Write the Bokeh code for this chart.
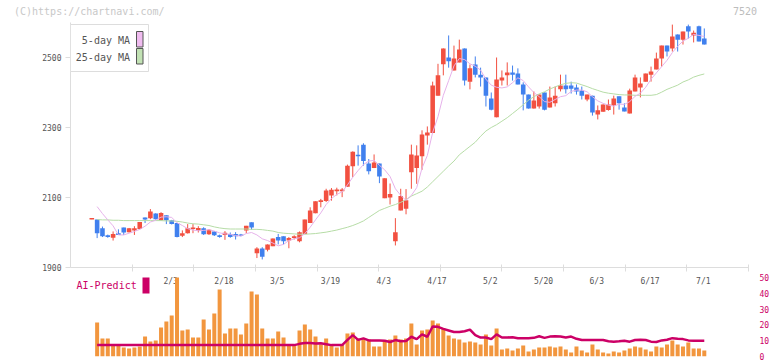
import numpy as np
from bokeh.plotting import figure
from bokeh.models import (Range1d, LinearAxis, FixedTicker, ColumnDataSource,
                          Label, BoxAnnotation, Div)
from bokeh.layouts import column
from bokeh.embed import file_html
from bokeh.resources import INLINE
from bokeh.core.properties import value

# ---------------- data ----------------
opens = [2039, 2037, 2012, 1992, 1985, 1998, 2014, 2001, 2006, 2010,
         2043, 2041, 2054, 2035, 2049, 2035, 2027, 1991, 1998, 2010,
         2006, 2012, 1995, 2003, 1992, 1993, 1996, 1996, 1994, 2006,
         2029, 1941, 1954, 1951, 1961, 1987, 1989, 1977, 1984, 1975,
         1996, 2027, 2055, 2087, 2090, 2106, 2118, 2118, 2131, 2189,
         2221, 2251, 2197, 2184, 2197, 2098, 2100, 1975, 2063, 2068,
         2172, 2184, 2218, 2277, 2284, 2391, 2481, 2500, 2463, 2486,
         2526, 2431, 2480, 2451, 2443, 2383, 2329, 2434, 2449, 2457,
         2454, 2423, 2394, 2354, 2360, 2400, 2357, 2369, 2409, 2420,
         2420, 2414, 2406, 2380, 2391, 2337, 2345, 2350, 2363, 2389,
         2357, 2340, 2403, 2414, 2431, 2451, 2466, 2497, 2534, 2526,
         2566, 2551, 2589, 2563, 2589, 2554]
highs = [2041, 2037, 2017, 1994, 2003, 2009, 2014, 2013, 2018, 2030,
         2043, 2067, 2055, 2058, 2049, 2036, 2027, 2006, 2024, 2024,
         2018, 2015, 2010, 2004, 1994, 2004, 2000, 2001, 1996, 2019,
         2029, 1958, 1958, 1966, 1983, 1996, 1989, 1987, 1992, 2003,
         2037, 2072, 2089, 2096, 2125, 2127, 2128, 2127, 2194, 2232,
         2249, 2255, 2210, 2223, 2197, 2155, 2140, 2041, 2125, 2124,
         2251, 2249, 2292, 2303, 2431, 2482, 2526, 2563, 2534, 2551,
         2526, 2480, 2503, 2471, 2443, 2400, 2500, 2463, 2486, 2477,
         2469, 2429, 2394, 2403, 2394, 2400, 2417, 2417, 2451, 2451,
         2431, 2423, 2417, 2394, 2391, 2363, 2366, 2380, 2391, 2389,
         2369, 2411, 2451, 2443, 2454, 2474, 2514, 2534, 2534, 2594,
         2566, 2574, 2594, 2577, 2591, 2583]
lows = [2038, 1984, 1987, 1985, 1977, 1993, 1993, 2000, 1993, 2009,
        2027, 2038, 2037, 2034, 2024, 2023, 1986, 1987, 1997, 1998,
        2000, 1993, 1993, 1990, 1985, 1979, 1985, 1980, 1989, 1998,
        2008, 1927, 1923, 1946, 1961, 1966, 1966, 1955, 1980, 1972,
        1996, 2027, 2055, 2072, 2087, 2091, 2106, 2101, 2131, 2158,
        2191, 2191, 2166, 2184, 2141, 2098, 2080, 1963, 2063, 2052,
        2125, 2139, 2179, 2251, 2284, 2391, 2449, 2471, 2463, 2486,
        2420, 2409, 2443, 2417, 2360, 2349, 2329, 2420, 2420, 2434,
        2423, 2349, 2354, 2354, 2354, 2349, 2357, 2360, 2403, 2397,
        2397, 2394, 2380, 2375, 2334, 2323, 2345, 2348, 2337, 2351,
        2346, 2340, 2403, 2386, 2431, 2431, 2466, 2474, 2503, 2517,
        2517, 2537, 2554, 2543, 2546, 2537]
closes = [2040, 1998, 1989, 1987, 1996, 1993, 2000, 2012, 2012, 2030,
          2037, 2060, 2038, 2056, 2035, 2024, 1987, 1998, 2012, 2014,
          2013, 1995, 2008, 1992, 1987, 1999, 1987, 1989, 1990, 2019,
          2014, 1954, 1931, 1966, 1983, 1977, 1975, 1984, 1989, 2001,
          2037, 2063, 2089, 2092, 2120, 2122, 2123, 2123, 2191, 2231,
          2219, 2204, 2175, 2200, 2160, 2155, 2110, 2001, 2104, 2092,
          2223, 2220, 2280, 2286, 2420, 2449, 2526, 2489, 2497, 2523,
          2434, 2469, 2451, 2443, 2391, 2351, 2437, 2443, 2457, 2451,
          2423, 2394, 2354, 2377, 2394, 2351, 2386, 2391, 2420, 2409,
          2411, 2403, 2391, 2394, 2343, 2349, 2366, 2366, 2383, 2369,
          2346, 2406, 2443, 2426, 2454, 2460, 2497, 2534, 2517, 2560,
          2551, 2574, 2574, 2571, 2546, 2537]
ma5 = [None, 2074, 2054, 2036, 2019, 1993, 1993, 1998, 2003, 2009,
       2018, 2030, 2035, 2044, 2045, 2043, 2028, 2020, 2011, 2007,
       2005, 2006, 2008, 2004, 1999, 1996, 1995, 1991, 1990, 1997,
       2000, 1993, 1982, 1977, 1970, 1962, 1966, 1977, 1982, 1985,
       1997, 2015, 2036, 2056, 2080, 2097, 2109, 2116, 2136, 2158,
       2177, 2194, 2204, 2206, 2192, 2179, 2160, 2125, 2106, 2092,
       2106, 2128, 2184, 2220, 2286, 2331, 2392, 2434, 2476, 2497,
       2494, 2482, 2475, 2464, 2438, 2421, 2415, 2413, 2416, 2428,
       2442, 2434, 2416, 2400, 2388, 2374, 2372, 2380, 2388, 2391,
       2403, 2407, 2407, 2402, 2388, 2376, 2369, 2364, 2361, 2367,
       2366, 2374, 2389, 2398, 2415, 2438, 2456, 2474, 2492, 2514,
       2532, 2547, 2555, 2566, 2563, 2560]
ma25 = [None, 2037, 2036, 2036, 2035, 2035, 2034, 2034, 2034, 2034,
        2034, 2034, 2034, 2034, 2033, 2033, 2032, 2030, 2027, 2025,
        2024, 2022, 2020, 2016, 2013, 2011, 2010, 2010, 2010, 2010,
        2009, 2009, 2008, 2006, 2004, 2000, 1998, 1997, 1996, 1995,
        1995, 1996, 1997, 1999, 2001, 2004, 2007, 2011, 2015, 2020,
        2026, 2033, 2043, 2053, 2063, 2069, 2075, 2080, 2086, 2094,
        2104, 2111, 2118, 2130, 2145, 2160, 2175, 2190, 2204, 2222,
        2234, 2246, 2258, 2275, 2290, 2300, 2308, 2318, 2328, 2340,
        2352, 2365, 2378, 2388, 2396, 2402, 2410, 2416, 2422, 2426,
        2428, 2427, 2422, 2417, 2411, 2406, 2401, 2398, 2396, 2394,
        2393, 2393, 2392, 2392, 2392, 2392, 2394, 2401, 2409, 2415,
        2421, 2430, 2436, 2444, 2449, 2453]
volume = [0, 34, 18, 18, 12, 12, 9, 8, 9, 10,
          20, 15, 16, 29, 35, 41, 79, 26, 27, 19,
          19, 37, 27, 43, 67, 23, 28, 28, 22, 33,
          65, 62, 28, 18, 18, 25, 19, 11, 11, 26,
          32, 27, 20, 12, 18, 11, 9, 12, 23, 24,
          18, 18, 17, 10, 10, 16, 17, 21, 17, 18,
          33, 12, 26, 27, 36, 33, 28, 21, 18, 17,
          14, 15, 14, 12, 22, 11, 28, 7, 8, 6,
          8, 11, 5, 7, 9, 9, 10, 9, 10, 7,
          4, 10, 6, 4, 12, 7, 4, 3, 5, 4,
          6, 8, 10, 9, 7, 5, 10, 9, 12, 16,
          12, 10, 14, 8, 8, 6]
ai_predict = [None, 7.2, 7.2, 7.2, 7.2, 7.2, 7.2, 7.2, 7.2, 7.2,
              7.2, 7.2, 7.2, 7.2, 7.2, 7.2, 7.2, 7.2, 7.2, 7.2,
              7.2, 7.2, 7.2, 7.2, 7.2, 7.2, 7.2, 7.2, 7.2, 7.2,
              7.2, 7.2, 7.2, 7.2, 7.2, 7.2, 7.2, 7.2, 7.2, 8.0,
              8.5, 8.5, 8.2, 8.4, 7.8, 7.2, 7.2, 7.2, 10.5, 13.5,
              10.5, 11.5, 10.2, 10.2, 10.2, 10.0, 9.2, 10.4, 9.6, 9.8,
              12.5, 11.0, 14.0, 12.5, 19.0, 18.8, 17.5, 16.5, 15.5, 15.5,
              16.0, 17.0, 13.5, 12.0, 12.0, 11.0, 14.0, 12.0, 12.0, 12.2,
              11.6, 11.6, 11.6, 11.8, 12.8, 11.8, 12.6, 12.8, 12.6, 12.0,
              12.6, 11.2, 10.4, 10.4, 10.4, 10.4, 10.4, 9.6, 9.4, 9.6,
              10.0, 9.4, 10.4, 10.6, 10.4, 9.4, 9.2, 10.2, 10.6, 11.6,
              11.2, 11.0, 10.2, 10.0, 10.0, 10.0]
date_labels = ["2/3", "2/18", "3/5", "3/19", "4/3", "4/17", "5/2",
               "5/20", "6/3", "6/17", "7/1"]
date_label_idx = [15, 25, 35, 45, 55, 65, 75, 85, 95, 105, 115]
price_ticks = [1900, 2100, 2300, 2500]
ai_ticks = [0, 10, 20, 30, 40, 50]

# ---------------- styling ----------------
FONT = "DejaVu Sans Mono"
UP = "#f25040"
DOWN = "#4080ee"
MA5C = "#e6b2ea"
MA25C = "#b6dca6"
VOLC = "#f2963e"
AIC = "#cc0066"
AXC = "#dddddd"
W = 772

X0, X1 = -4.0, 123.3

idx = np.arange(len(opens))
o = np.array(opens, float)
c = np.array(closes, float)
colors = np.where(c >= o, UP, DOWN)
top = np.maximum(o, c)
bot = np.minimum(o, c)
small = (top - bot) < 4
mid = (top + bot) / 2
top = np.where(small, mid + 2, top)
bot = np.where(small, mid - 2, bot)

src = ColumnDataSource(dict(x=idx, o=o, h=np.array(highs, float), l=np.array(lows, float),
                            c=c, top=top, bot=bot, color=colors,
                            ma5=np.array(ma5, dtype=float), ma25=np.array(ma25, dtype=float),
                            vol=np.array(volume, float), ai=np.array(ai_predict, dtype=float)))

# ---------------- header strip (copyright + code) ----------------
hdr = Div(width=W, height=22, margin=0, text=(
    '<div style="position:relative;width:772px;height:22px;'
    'font-family:\'DejaVu Sans Mono\',monospace;font-size:10px;line-height:12px;">'
    '<span style="position:absolute;left:14px;top:6px;color:#c8c8c8;white-space:nowrap;">'
    '(C)https://chartnavi.com/</span>'
    '<span style="position:absolute;left:733px;top:6px;color:#bdbdbd;white-space:nowrap;">'
    '7520</span></div>'))

# ---------------- main price chart ----------------
p = figure(width=W, height=251, x_range=Range1d(X0, X1), y_range=Range1d(1900, 2600),
           output_backend="svg", toolbar_location=None,
           min_border_left=70, min_border_right=20, min_border_top=0, min_border_bottom=6,
           outline_line_color=None, background_fill_color="white", border_fill_color="white")
p.grid.visible = False

p.yaxis.ticker = FixedTicker(ticks=price_ticks)
p.yaxis.major_label_text_font = FONT
p.yaxis.major_label_text_font_size = "8px"
p.yaxis.major_label_text_color = "#555555"
p.yaxis.axis_line_color = AXC
p.yaxis.major_tick_line_color = AXC
p.yaxis.major_tick_out = 5
p.yaxis.major_tick_in = 0
p.yaxis.minor_tick_line_color = None
p.yaxis.major_label_standoff = 4

p.xaxis.ticker = FixedTicker(ticks=list(np.linspace(X0, X1, 12)[1:]))
p.xaxis.major_label_text_color = None
p.xaxis.major_label_standoff = 0
p.xaxis.axis_line_color = AXC
p.xaxis.major_tick_line_color = AXC
p.xaxis.major_tick_out = 4
p.xaxis.major_tick_in = 3
p.xaxis.minor_tick_line_color = None

p.segment(x0="x", y0="l", x1="x", y1="h", color="color", line_width=1, source=src)
p.vbar(x="x", width=0.86, top="top", bottom="bot", fill_color="color", line_color=None, source=src)
p.line(x="x", y="ma25", color=MA25C, line_width=1, source=src)
p.line(x="x", y="ma5", color=MA5C, line_width=1, source=src)

# legend box (frame-relative screen units)
p.add_layout(BoxAnnotation(left=0, right=78, top=243, bottom=196,
                           left_units="screen", right_units="screen", top_units="screen", bottom_units="screen",
                           fill_color="white", fill_alpha=1, line_color=AXC, line_width=1, line_alpha=1))
p.add_layout(BoxAnnotation(left=66, right=72.5, top=236, bottom=220.5,
                           left_units="screen", right_units="screen", top_units="screen", bottom_units="screen",
                           fill_color="#f0bcf0", fill_alpha=1, line_color="#555555", line_width=1, line_alpha=1))
p.add_layout(BoxAnnotation(left=66, right=72.5, top=219, bottom=203.5,
                           left_units="screen", right_units="screen", top_units="screen", bottom_units="screen",
                           fill_color="#c2e2b4", fill_alpha=1, line_color="#555555", line_width=1, line_alpha=1))
for txt, yy in (("5-day MA", 227), ("25-day MA", 210)):
    p.add_layout(Label(x=59.5, y=yy, x_units="screen", y_units="screen", text=txt,
                       text_font=FONT, text_font_size="10px", text_color="#555555",
                       text_align="right", text_baseline="middle"))

# ---------------- lower panel: volume + AI-Predict ----------------
# frame spans 81 px; 0..50 maps onto 79 px
p2 = figure(width=W, height=88, x_range=p.x_range, y_range=Range1d(0, 81 / 1.58),
            output_backend="svg", toolbar_location=None,
            x_axis_location=None, y_axis_location=None,
            min_border_left=70, min_border_right=20, min_border_top=2, min_border_bottom=5,
            outline_line_color=None, background_fill_color="white", border_fill_color="white")
p2.grid.visible = False
p2.extra_y_ranges = {"vol": Range1d(0, 81)}

rax = LinearAxis(ticker=FixedTicker(ticks=ai_ticks))
rax.axis_line_color = None
rax.major_tick_line_color = None
rax.minor_tick_line_color = None
rax.major_label_standoff = 5
rax.major_label_text_font = FONT
rax.major_label_text_font_size = "8px"
rax.major_label_text_color = AIC
p2.add_layout(rax, "right")

lab_src = ColumnDataSource(dict(x=date_label_idx, y=[47.5] * len(date_label_idx), t=date_labels))
p2.text(x="x", y="y", text="t", source=lab_src, text_font=value(FONT), text_font_size="8px",
        text_color="#555555", text_align="center", text_baseline="middle", x_offset=-1)
p2.vbar(x="x", top="vol", width=0.75, bottom=0, y_range_name="vol", fill_color=VOLC,
        line_color=None, source=src)
p2.line(x="x", y="ai", color=AIC, line_width=2.5, source=src)

p2.add_layout(Label(x=6, y=71, x_units="screen", y_units="screen", text="AI-Predict",
                    text_font=FONT, text_font_size="10px", text_color=AIC,
                    text_align="left", text_baseline="middle"))
p2.add_layout(BoxAnnotation(left=72, right=79, bottom=63, top=79,
                            left_units="screen", right_units="screen", top_units="screen", bottom_units="screen",
                            fill_color=AIC, fill_alpha=1, line_color=None))

layout = column(hdr, p, p2)

open("out.html", "w").write(file_html(layout, INLINE))
